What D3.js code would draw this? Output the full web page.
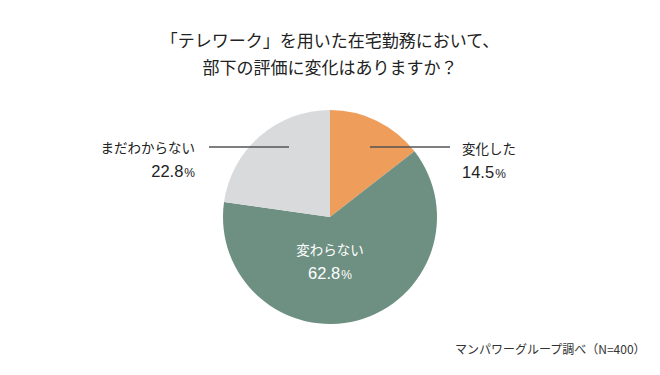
<!DOCTYPE html>
<html><head><meta charset="utf-8">
<script src="https://cdn.jsdelivr.net/npm/d3@7"></script>
<style>body{margin:0;background:#fff;}svg{display:block;}</style>
</head><body>
<svg id="c" width="660" height="375"></svg>
<script>
const titleLines = ["「テレワーク」を用いた在宅勤務において、", "部下の評価に変化はありますか？"];
const categories = ["変化した", "変わらない", "まだわからない"];
const values = [14.5, 62.8, 22.8];
const colors = ["#EE9D5A", "#6E9082", "#D9DADC"];
const source = "マンパワーグループ調べ（N=400）";

const svg = d3.select("#c");
const font = "'Noto Sans CJK JP', 'Noto Sans', sans-serif";
const cx = 330, cy = 217, r = 107;

svg.selectAll("text.title").data(titleLines).enter().append("text")
  .attr("x", 330).attr("y", (d, i) => 47 + i * 27)
  .attr("text-anchor", "middle").attr("font-family", font)
  .attr("font-size", 17).attr("fill", "#222").text(d => d);

const pie = d3.pie().sort(null).value(d => d)(values);
const arc = d3.arc().innerRadius(0).outerRadius(r);
const g = svg.append("g").attr("transform", `translate(${cx},${cy})`);
g.selectAll("path").data(pie).enter().append("path")
  .attr("d", arc).attr("fill", (d, i) => colors[i]);

// leader lines
svg.append("line").attr("x1", 370).attr("x2", 450).attr("y1", 147).attr("y2", 147)
  .attr("stroke", "#555").attr("stroke-width", 1.3);
svg.append("line").attr("x1", 209).attr("x2", 289).attr("y1", 147).attr("y2", 147)
  .attr("stroke", "#555").attr("stroke-width", 1.3);

function label(x, y, anchor, i, fill) {
  svg.append("text").attr("x", x).attr("y", y).attr("text-anchor", anchor)
    .attr("font-family", font).attr("font-size", 13.5).attr("fill", fill).text(categories[i]);
  const t = svg.append("text").attr("x", x).attr("y", y + 24).attr("text-anchor", anchor)
    .attr("font-family", "'Liberation Sans', Arial, sans-serif").attr("fill", fill);
  t.append("tspan").attr("font-size", 16.5).text(values[i].toFixed(1));
  t.append("tspan").attr("font-size", 12).attr("dx", 1).text("%");
}
label(462, 154, "start", 0, "#222");
label(195, 153, "end", 2, "#222");
label(330, 255, "middle", 1, "#fff");

svg.append("text").attr("x", 455).attr("y", 354).attr("font-family", font)
  .attr("font-size", 12).attr("fill", "#333").text(source);
</script>
</body></html>
